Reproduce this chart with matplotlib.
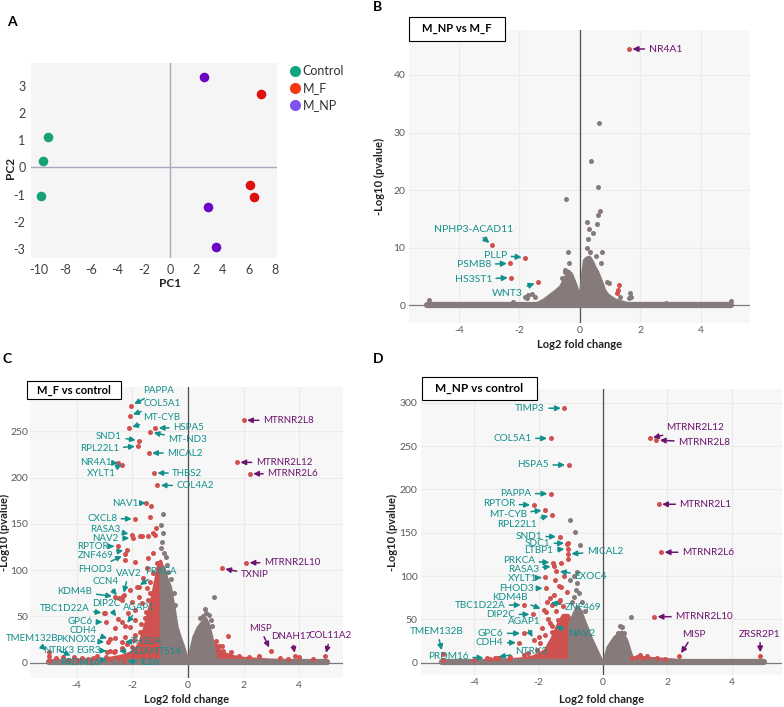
import matplotlib
matplotlib.use("Agg")
import matplotlib.pyplot as plt
from matplotlib.lines import Line2D
from matplotlib.patches import Rectangle

plt.rcParams['font.family'] = ['Lato', 'DejaVu Sans']
plt.rcParams['axes.unicode_minus'] = False

W, H = 784, 707
GRAY = '#877a7a'
RED = '#d05250'
TEAL = '#12908c'
PURPLE = '#6c146e'
TICK = '#5a5a5a'

# ---------------- A: PCA ----------------
ctrl_pc1 = [-9.3, -9.7, -9.8]
ctrl_pc2 = [1.1, 0.25, -1.05]
mf_pc1 = [6.9, 6.1, 6.4]
mf_pc2 = [2.7, -0.65, -1.1]
mnp_pc1 = [2.6, 2.9, 3.5]
mnp_pc2 = [3.3, -1.45, -2.9]

# ---------------- B: M_NP vs M_F ----------------
b_env_x = [-1.45, -1.2, -1.0, -0.8, -0.65, -0.5, -0.4, -0.3, -0.17, -0.05, 0.0, 0.05, 0.14,
           0.22, 0.3, 0.4, 0.47, 0.55, 0.63, 0.72, 0.79, 0.9, 1.0, 1.15, 1.33, 1.6]
b_env_y = [0.3, 1.0, 1.8, 2.6, 3.3, 4.8, 6.0, 5.5, 3.8, 2.0, 0.8, 4.4, 7.9,
           8.3, 8.4, 7.6, 6.7, 6.0, 5.0, 3.8, 2.7, 1.9, 1.5, 1.0, 0.7, 0.3]
b_gray_x = [0.64, 0.35, 0.58, -0.47, 0.66, 0.58, 0.24, 0.55, 0.31, 0.44, 0.27, 0.22, 0.33, -0.39,
            0.72, 0.53, -0.36, -0.50, -0.49, -0.60, 0.70, 0.88, 1.32, 1.68, 1.66, 1.63, -1.71,
            -1.60, -1.50, -1.74, -1.80, -2.20, -5.0, 5.0, 2.86, 0.95]
b_gray_y = [31.7, 25.1, 20.6, 18.5, 16.4, 15.6, 14.5, 14.1, 13.2, 12.6, 11.6, 9.9, 9.3, 9.3,
            9.3, 8.6, 7.4, 6.2, 5.7, 4.8, 7.4, 4.1, 1.5, 1.5, 2.1, 1.2, 1.8,
            1.9, 1.4, 1.2, 1.5, 0.6, 0.9, 0.8, 0.4, 3.9]
b_red_x = [1.29, 1.25, 1.24]
b_red_y = [3.5, 2.6, 2.2]
b_genes = ['NR4A1', 'NPHP3-ACAD11', 'PLLP', 'PSMB8', 'HS3ST1', 'WNT3']
b_gene_x = [1.62, -2.91, -1.81, -2.30, -2.27, -1.39]
b_gene_y = [44.5, 10.4, 8.3, 7.3, 4.8, 4.0]
b_lab = [(2.27, 44.5, 'left'), (-3.5, 13.2, 'center'), (-2.41, 8.7, 'right'),
         (-2.93, 7.0, 'right'), (-2.91, 4.5, 'right'), (-2.39, 2.1, 'center')]

# ---------------- C: M_F vs control ----------------
c_gray_env_x = [-0.97, -0.9, -0.78, -0.65, -0.52, -0.41, -0.3, -0.17, -0.08, -0.02]
c_gray_env_y = [100, 104, 92, 82, 60, 39, 28, 17, 8, 2]
c_gray_env2_x = [0.02, 0.1, 0.2, 0.35, 0.5, 0.62, 0.72, 0.82, 0.92, 0.98]
c_gray_env2_y = [2, 15, 28, 38, 44, 48, 42, 30, 15, 5]
c_red_env_x = [-5.0, -3.0, -2.3, -2.0, -1.8, -1.7, -1.6, -1.5, -1.4, -1.3, -1.2, -1.1, -1.0, -0.95]
c_red_env_y = [2, 4, 8, 12, 18, 25, 35, 45, 58, 70, 85, 100, 110, 105]
c_red_env2_x = [0.98, 1.1, 1.3, 1.6, 2.0, 2.5, 3.0, 4.0, 5.0]
c_red_env2_y = [20, 14, 10, 7, 5, 4, 3, 2.5, 2]
c_gray_x = [-0.90, -0.98, -0.88, -0.93, -0.95, -0.85, -0.80, -0.75, -0.70, -0.60, -0.50, -0.45,
            0.93, 0.66, 0.55, 0.82, 0.60, 0.75, 0.45, 0.88]
c_gray_y = [160.5, 148.5, 140, 130, 124, 119, 114, 106, 98, 90, 75, 62,
            70.8, 53.6, 50, 45.6, 58, 52, 48, 40]
c_red_x = [-1.32, -1.36, -1.71, -1.44, -1.27, -1.16, -1.66, -1.18, -2.25, -1.89, -1.42, -1.24,
           -1.48, -1.12, -1.06, -1.24, -1.60, -1.36, -1.77, -1.48, -2.07, -1.77, -2.31, -2.37,
           -2.01, -1.66, -1.89, -2.15, -2.37, -1.89, -2.07, -1.71, -3.02, -2.60, -2.60, -2.25,
           -1.95, -2.90, -2.66, -2.37, -2.01, -3.26, -3.08, -2.25, -4.50, -4.74, -5.00, -5.00,
           -3.60, -4.00, -4.30, -3.80, -3.40, -2.95, -2.50, -1.50, -1.30, -1.55, -1.70, -1.35,
           -1.15, -1.45, -1.90, -2.20, -1.80,
           1.23, 1.45, 1.26, 1.55, 1.85, 2.56, 1.00, 1.10, 2.20, 3.30, 4.00, 4.50, 3.60]
c_red_y = [168.9, 157.4, 136.4, 136.4, 140, 145.5, 137, 138, 111, 109.3, 112.9, 118.3,
           102, 107.5, 102, 96.6, 91.2, 87.6, 82.2, 80.4, 78.6, 71.4, 73.2, 67.8,
           66, 64.2, 57, 53.4, 44.4, 46.2, 39, 33.6, 53.4, 37.2, 26.4, 28.2,
           24.6, 12, 12, 15.6, 17.4, 6.8, 3.2, 6.8, 6.5, 4.7, 7, 3,
           4, 3, 2.5, 5.5, 5, 6, 5, 55, 60, 48, 42, 75,
           85, 68, 30, 20, 18,
           18.1, 29, 12.7, 11, 7.4, 7.4, 23, 18, 6, 5, 6, 4, 3.5]
c_genes = ['PAPPA', 'COL5A1', 'MT-CYB', 'HSPA5', 'MT-ND3', 'SND1', 'RPL22L1', 'MICAL2', 'NR4A1',
           'XYLT1', 'THBS2', 'COL4A2', 'NAV1', 'CXCL8', 'RASA3', 'NAV2', 'RPTOR', 'ZNF469',
           'FHOD3', 'VAV2', 'PRKCA', 'CCN4', 'KDM4B', 'DIP2C', 'AGAP1', 'TBC1D22A', 'GPC6',
           'CDH4', 'PKNOX2', 'TMEM132B', 'NTRK3', 'EGR3', 'PRDM16', 'THSD4', 'ADAMTS14', 'IL26',
           'MTRNR2L8', 'MTRNR2L12', 'MTRNR2L6', 'MTRNR2L10', 'TXNIP', 'MISP', 'DNAH17', 'COL11A2']
c_gene_x = [-2.04, -2.09, -2.12, -1.17, -1.35, -1.75, -1.78, -1.41, -2.51, -2.37, -1.22, -1.10,
            -1.51, -1.89, -2.01, -1.98, -2.52, -2.20, -2.26, -2.33, -1.83, -2.47, -2.60, -2.50,
            -2.25, -2.98, -2.94, -2.78, -2.88, -5.00, -4.10, -2.80, -2.78, -2.37, -2.60, -2.30,
            2.00, 1.76, 2.22, 2.09, 1.22, 2.97, 3.86, 4.93]
c_gene_y = [277.8, 267, 253.7, 253.7, 249.3, 240, 234, 226.6, 215.8, 214, 205, 191.6,
            172.5, 155.5, 138.5, 134.5, 125.8, 122, 117, 72, 82, 70, 71.4, 47,
            40, 53.5, 43.7, 25.3, 22, 11, 6, 12.5, 4, 22.7, 12.5, 2,
            262, 216.5, 204.2, 108, 102, 13, 7, 7]
c_lab = [(-1.59, 294, 'left'), (-1.59, 280, 'left'), (-1.59, 265, 'left'), (-0.53, 254, 'left'),
         (-0.70, 241, 'left'), (-2.37, 245, 'right'), (-2.46, 231, 'right'), (-0.74, 226.6, 'left'),
         (-2.72, 216.4, 'right'), (-2.58, 204, 'right'), (-0.56, 205, 'left'), (-0.41, 191.6, 'left'),
         (-1.77, 172.5, 'right'), (-2.54, 155.5, 'right'), (-2.43, 144.4, 'right'),
         (-2.48, 134.6, 'right'), (-2.84, 125.6, 'right'), (-2.68, 115.5, 'right'),
         (-2.72, 101, 'right'), (-2.13, 96.7, 'center'), (-0.97, 98.5, 'center'),
         (-2.96, 87.7, 'center'), (-3.43, 76.8, 'right'), (-2.92, 64.3, 'center'),
         (-1.77, 60, 'center'), (-3.53, 58.8, 'right'), (-3.43, 44.4, 'right'),
         (-3.26, 34.3, 'right'), (-3.30, 24.6, 'right'), (-5.6, 26.4, 'center'),
         (-4.64, 13.5, 'center'), (-3.56, 13.5, 'center'), (-3.89, 0.5, 'center'),
         (-2.04, 22.6, 'left'), (-2.08, 12.0, 'left'), (-1.72, 0.5, 'left'),
         (2.70, 262, 'left'), (2.44, 216.5, 'left'), (2.85, 204.2, 'left'), (2.73, 108, 'left'),
         (1.90, 95, 'left'), (2.59, 37.2, 'center'), (3.72, 28, 'center'), (5.12, 29, 'center')]

# ---------------- D: M_NP vs control ----------------
d_gray_env_x = [-1.05, -1.0, -0.9, -0.81, -0.7, -0.6, -0.5, -0.4, -0.3, -0.2, -0.1, -0.02]
d_gray_env_y = [45, 49, 58, 65, 60, 49, 40, 30, 22, 14, 6, 1]
d_gray_env2_x = [0.02, 0.15, 0.36, 0.57, 0.72, 0.85, 0.92]
d_gray_env2_y = [2, 18.5, 30, 35.8, 26.2, 10.8, 3]
d_red_env_x = [-5.0, -4.0, -3.0, -2.5, -2.2, -2.0, -1.8, -1.6, -1.4, -1.25, -1.1, -1.02]
d_red_env_y = [1.5, 2.5, 3.5, 5, 7, 10, 15, 28, 45, 55, 55, 50]
d_red_env2_x = [0.88, 1.2, 1.6, 2.0, 2.3]
d_red_env2_y = [6, 6, 5, 4, 3]
d_gray_x = [-1.02, -0.86, -0.71, -1.02, -0.81, -0.83, -0.91, -0.75, -0.65, -0.95, -0.55, -0.80,
            -0.90, 0.87, 0.54, 0.46, 0.64, 0.59]
d_gray_y = [164.8, 151.3, 136, 95.5, 91.6, 84, 76.2, 80, 70, 70, 60, 105,
            100, 53.1, 42.5, 34.6, 34.6, 41.6]
d_red_x = [-1.13, -1.10, -1.30, -1.37, -1.30, -1.13, -1.53, -1.35, -1.60, -1.64, -1.37, -1.77,
           -1.40, -1.64, -1.58, -1.79, -1.95, -2.06, -2.32, -2.47, -2.89, -3.30, -3.51, -3.24,
           -2.93, -4.99, -4.00, -1.50, -1.20, -1.45, -1.25, -1.70, -1.90, -2.00,
           0.90, 1.16, 1.37, 1.68, 1.94, 1.05, 1.25]
d_red_y = [137, 120, 114.7, 88.5, 87, 82, 78, 72.4, 66.6, 74.3, 70.4, 59,
           49.3, 45.4, 35.8, 32, 22.4, 14.6, 10.8, 8.9, 7, 5, 4, 5,
           4, 3, 3, 95, 100, 60, 65, 50, 40, 30,
           5, 8.8, 7.6, 5, 4.5, 7, 6]
d_genes = ['TIMP3', 'COL5A1', 'HSPA5', 'PAPPA', 'RPTOR', 'MT-CYB', 'RPL22L1', 'SND1', 'SDC1',
           'LTBP1', 'MICAL2', 'PRKCA', 'RASA3', 'EXOC4', 'XYLT1', 'FHOD3', 'KDM4B', 'ZNF469',
           'TBC1D22A', 'DIP2C', 'AGAP1', 'NAV2', 'GPC6', 'CDH4', 'TMEM132B', 'PRDM16', 'NTRK3',
           'MTRNR2L12', 'MTRNR2L8', 'MTRNR2L1', 'MTRNR2L6', 'MTRNR2L10', 'MISP', 'ZRSR2P1']
d_gene_x = [-1.20, -1.63, -1.07, -1.62, -2.16, -1.80, -1.59, -1.35, -1.10, -1.09,
            -1.09, -1.56, -1.52, -1.45, -1.80, -1.77, -1.84, -1.73, -2.45, -2.18,
            -2.14, -1.58, -2.47, -2.60, -4.99, -3.61, -3.35,
            1.45, 1.66, 1.73, 1.81, 1.59, 2.37, 4.90]
d_gene_y = [293.8, 259, 228.3, 195, 182, 176.3, 170.5, 145.5, 137.9, 131.5,
            125.5, 115.5, 111.5, 106, 98.5, 85.9, 61, 70, 66.6, 55.8,
            26, 42.5, 33.9, 23.1, 10.6, 5.5, 6,
            259, 257, 182.9, 127.5, 53.1, 7.7, 8]
d_lab = [(-1.81, 293.8, 'right'), (-2.22, 259, 'right'), (-1.68, 228.3, 'right'),
         (-2.23, 195.6, 'right'), (-2.73, 183.3, 'right'), (-2.37, 171.4, 'right'),
         (-2.06, 160.0, 'right'), (-1.90, 145.8, 'right'), (-1.64, 137.9, 'right'),
         (-1.54, 129, 'right'), (-0.50, 128.2, 'left'), (-2.11, 117.8, 'right'),
         (-2.00, 107.8, 'right'), (-0.89, 100, 'left'), (-2.06, 97.4, 'right'),
         (-2.16, 85.9, 'right'), (-2.88, 75.5, 'center'), (-1.20, 63.5, 'left'),
         (-3.04, 66.6, 'right'), (-2.73, 55.8, 'right'), (-2.45, 47.3, 'center'),
         (-1.09, 33.9, 'left'), (-3.10, 33.9, 'right'), (-3.10, 23.1, 'right'),
         (-5.16, 36.6, 'center'), (-4.80, 6.9, 'center'), (-2.24, 12.7, 'center'),
         (1.97, 271.3, 'left'), (2.34, 254.5, 'left'), (2.38, 182.9, 'left'),
         (2.46, 127.5, 'left'), (2.25, 53.1, 'left'), (2.82, 33.1, 'center'), (4.88, 33.1, 'center')]


def add_axes(l, t, r, b):
    return fig.add_axes([l / W, 1 - b / H, (r - l) / W, (b - t) / H])


def style(ax, xlim, ylim, xticks, yticks):
    ax.set_facecolor('#f7f7f7')
    for s in ax.spines.values():
        s.set_visible(False)
    ax.set_xlim(xlim)
    ax.set_ylim(ylim)
    ax.set_xticks(xticks)
    ax.set_yticks(yticks)
    ax.tick_params(length=0, labelsize=7.5, colors=TICK, pad=2.5)
    ax.grid(color='#ebebeb', lw=0.8)
    ax.set_axisbelow(True)
    ax.axhline(0, color='#7a7a7a', lw=0.9, zorder=1)
    ax.axvline(0, color='#4d4d4d', lw=0.9, zorder=1.5)
    ax.set_xlabel('Log2 fold change', fontsize=8, fontweight='bold', color='#222222')
    ax.set_ylabel('-Log10 (pvalue)', fontsize=8, fontweight='bold', color='#222222')


def blob(ax, xs, ys, color, z):
    ax.fill_between(xs, 0, ys, color=color, lw=2.5, joinstyle='round', zorder=z)


def labels(ax, genes, gx, gy, lab, fs):
    ax.scatter(gx, gy, s=13, color=RED, lw=0, zorder=5)
    for g, x, y, (tx, ty, ha) in zip(genes, gx, gy, lab):
        c = PURPLE if x > 0 else TEAL
        ax.annotate(g, xy=(x, y), xytext=(tx, ty), ha=ha, va='center', fontsize=fs, color=c,
                    zorder=6,
                    arrowprops=dict(arrowstyle='-|>,head_length=0.45,head_width=0.22', color=c,
                                    lw=1.1, shrinkA=1, shrinkB=2.5))


def title_box(l, t, r, b, text, fs):
    fig.patches.append(Rectangle((l / W, 1 - b / H), (r - l) / W, (b - t) / H,
                                 transform=fig.transFigure, fc='white', ec='black', lw=0.8,
                                 zorder=10))
    fig.text((l + r) / 2 / W, 1 - (t + b) / 2 / H, text, ha='center', va='center',
             fontsize=fs, fontweight='bold', zorder=11)


fig = plt.figure(figsize=(W / 100, H / 100), dpi=100)

# ---- panel A
axA = add_axes(31, 63, 277, 258)
axA.set_facecolor('#f5f5f5')
for s in axA.spines.values():
    s.set_visible(False)
axA.axhline(0, color='#a8a8bc', lw=1, zorder=1)
axA.axvline(0, color='#a8a8bc', lw=1, zorder=1)
axA.scatter(ctrl_pc1, ctrl_pc2, s=48, color='#18a078', lw=0, zorder=3)
axA.scatter(mf_pc1, mf_pc2, s=48, color='#e00f0f', lw=0, zorder=3)
axA.scatter(mnp_pc1, mnp_pc2, s=48, color='#6a06c4', lw=0, zorder=3)
axA.set_xlim(-10.6, 8.15)
axA.set_ylim(-3.32, 3.83)
axA.set_xticks(range(-10, 9, 2))
axA.set_yticks(range(-3, 4))
axA.tick_params(length=0, labelsize=9, colors='#404040', pad=4)
axA.set_xlabel('PC1', fontsize=8.5, fontweight='bold', color='#222222')
axA.set_ylabel('PC2', fontsize=8.5, fontweight='bold', color='#222222')
axA.xaxis.set_label_coords(0.565, -0.105)
axA.yaxis.set_label_coords(-0.06, 0.464)
handles = [Line2D([], [], ls='', marker='o', markersize=8, color=c, mec='none')
           for c in ['#14a37f', '#f2390f', '#7f52f0']]
fig.legend(handles, ['Control', 'M_F', 'M_NP'], loc='upper left',
           bbox_to_anchor=(284 / W, 1 - 60 / H), frameon=False, fontsize=9,
           handletextpad=0.1, labelspacing=0.4, borderaxespad=0, handlelength=1.0,
           labelcolor='#333333')

# ---- panel B
axB = add_axes(409, 30, 750, 323)
style(axB, (-5.65, 5.62), (-3.07, 47.8), [-4, -2, 0, 2, 4], [0, 10, 20, 30, 40])
axB.plot([-5.05, 5.0], [0.1, 0.1], color=GRAY, lw=4.5, solid_capstyle='round', zorder=2)
blob(axB, b_env_x, b_env_y, GRAY, 3)
axB.scatter(b_gray_x, b_gray_y, s=13, color=GRAY, lw=0, zorder=3.5)
axB.scatter(b_red_x, b_red_y, s=13, color=RED, lw=0, zorder=4)
labels(axB, b_genes, b_gene_x, b_gene_y, b_lab, 7.5)
axB.xaxis.set_label_coords(0.5, -0.055)
axB.yaxis.set_label_coords(-0.07, 0.5)
title_box(409, 17, 505, 41, 'M_NP vs M_F', 8)

# ---- panel C
axC = add_axes(30, 387, 343, 678)
style(axC, (-5.67, 5.57), (-16.6, 298), [-4, -2, 0, 2, 4], [0, 50, 100, 150, 200, 250])
axC.tick_params(axis='y', pad=1.5)
blob(axC, c_red_env_x, c_red_env_y, RED, 2.2)
blob(axC, c_red_env2_x, c_red_env2_y, RED, 2.2)
axC.plot([-5.0, 5.0], [0.5, 0.5], color=GRAY, lw=4.5, solid_capstyle='round', zorder=2.6)
blob(axC, c_gray_env_x, c_gray_env_y, GRAY, 3)
blob(axC, c_gray_env2_x, c_gray_env2_y, GRAY, 3)
axC.scatter(c_gray_x, c_gray_y, s=13, color=GRAY, lw=0, zorder=3.5)
axC.scatter(c_red_x, c_red_y, s=13, color=RED, lw=0, zorder=4)
labels(axC, c_genes, c_gene_x, c_gene_y, c_lab, 7.0)
axC.xaxis.set_label_coords(0.5, -0.055)
axC.yaxis.set_label_coords(-0.064, 0.5)
title_box(27, 381, 121, 399, 'M_F vs control', 8)

# ---- panel D
axD = add_axes(421, 389, 782, 675)
style(axD, (-5.66, 5.57), (-14.2, 316), [-4, -2, 0, 2, 4], [0, 50, 100, 150, 200, 250, 300])
blob(axD, d_red_env_x, d_red_env_y, RED, 2.2)
blob(axD, d_red_env2_x, d_red_env2_y, RED, 2.2)
axD.plot([-5.0, 5.0], [0.5, 0.5], color=GRAY, lw=4.5, solid_capstyle='round', zorder=2.6)
blob(axD, d_gray_env_x, d_gray_env_y, GRAY, 3)
blob(axD, d_gray_env2_x, d_gray_env2_y, GRAY, 3)
axD.scatter(d_gray_x, d_gray_y, s=13, color=GRAY, lw=0, zorder=3.5)
axD.scatter(d_red_x, d_red_y, s=13, color=RED, lw=0, zorder=4)
labels(axD, d_genes, d_gene_x, d_gene_y, d_lab, 7.2)
axD.xaxis.set_label_coords(0.5, -0.066)
axD.yaxis.set_label_coords(-0.065, 0.5)
title_box(422, 377, 537, 400, 'M_NP vs control', 8.5)

# panel letters
for letter, x, y in [('A', 12, 22), ('B', 378, 7), ('C', 7, 359), ('D', 378, 359)]:
    fig.text(x / W, 1 - y / H, letter, fontsize=10, fontweight='bold', ha='center', va='center')

fig.savefig('out.png', dpi=100)
